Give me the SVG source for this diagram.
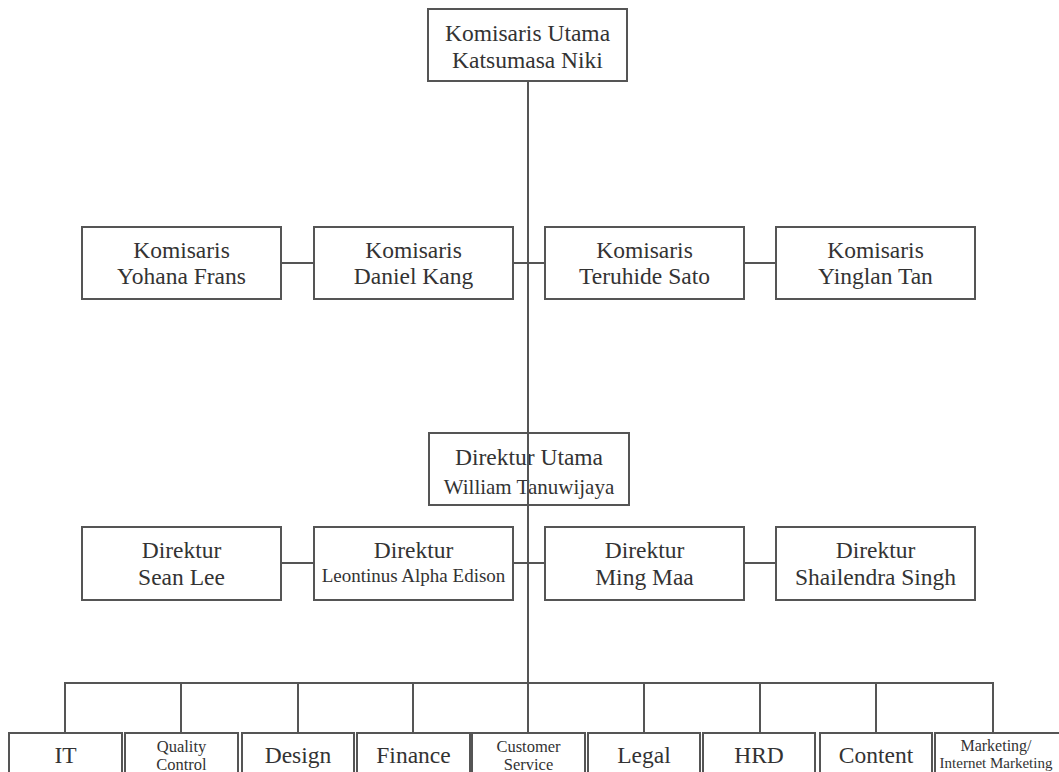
<svg xmlns="http://www.w3.org/2000/svg" width="1059" height="772" viewBox="0 0 1059 772">
<style>
.box{fill:none;stroke:#555;stroke-width:2}
.ln{stroke:#555;stroke-width:2;fill:none}
text{font-family:"Liberation Serif","Times New Roman",serif;fill:#333;text-anchor:middle}
.l{font-size:23.5px}
.m{font-size:19px}
.s{font-size:16.5px}
.xs{font-size:15px}
</style>
<rect width="1059" height="772" fill="#fff"/>
<g id="komisaris-utama"><rect class="box" x="428" y="9" width="199" height="72"/><text class="l" x="527.5" y="41">Komisaris Utama</text><text class="l" x="527.5" y="68">Katsumasa Niki</text></g>
<g id="komisaris-yohana"><rect class="box" x="82" y="227" width="199" height="72"/><text class="l" x="181.5" y="258">Komisaris</text><text class="l" x="181.5" y="284">Yohana Frans</text></g>
<g id="komisaris-daniel"><rect class="box" x="314" y="227" width="199" height="72"/><text class="l" x="413.5" y="258">Komisaris</text><text class="l" x="413.5" y="284">Daniel Kang</text></g>
<g id="komisaris-teruhide"><rect class="box" x="545" y="227" width="199" height="72"/><text class="l" x="644.5" y="258">Komisaris</text><text class="l" x="644.5" y="284">Teruhide Sato</text></g>
<g id="komisaris-yinglan"><rect class="box" x="776" y="227" width="199" height="72"/><text class="l" x="875.5" y="258">Komisaris</text><text class="l" x="875.5" y="284">Yinglan Tan</text></g>
<g id="direktur-utama"><rect class="box" x="429" y="433" width="200" height="72"/><text class="l" x="529" y="465">Direktur Utama</text><text style="font-size:21px" x="529" y="494">William Tanuwijaya</text></g>
<g id="direktur-sean"><rect class="box" x="82" y="527" width="199" height="73"/><text class="l" x="181.5" y="558">Direktur</text><text class="l" x="181.5" y="585">Sean Lee</text></g>
<g id="direktur-leontinus"><rect class="box" x="314" y="527" width="199" height="73"/><text class="l" x="413.5" y="558">Direktur</text><text class="m" x="413.5" y="582">Leontinus Alpha Edison</text></g>
<g id="direktur-ming"><rect class="box" x="545" y="527" width="199" height="73"/><text class="l" x="644.5" y="558">Direktur</text><text class="l" x="644.5" y="585">Ming Maa</text></g>
<g id="direktur-shailendra"><rect class="box" x="776" y="527" width="199" height="73"/><text class="l" x="875.5" y="558">Direktur</text><text class="l" x="875.5" y="585">Shailendra Singh</text></g>
<g id="dept-it"><rect class="box" x="9" y="733" width="113" height="60"/><text class="l" x="65.5" y="763">IT</text></g>
<g id="dept-qc"><rect class="box" x="125" y="733" width="113" height="60"/><text class="s" x="181.5" y="752">Quality</text><text class="s" x="181.5" y="770">Control</text></g>
<g id="dept-design"><rect class="box" x="242" y="733" width="112" height="60"/><text class="l" x="298" y="763">Design</text></g>
<g id="dept-finance"><rect class="box" x="357" y="733" width="113" height="60"/><text class="l" x="413.5" y="763">Finance</text></g>
<g id="dept-cs"><rect class="box" x="472" y="733" width="113" height="60"/><text class="s" x="528.5" y="752">Customer</text><text class="s" x="528.5" y="770">Service</text></g>
<g id="dept-legal"><rect class="box" x="588" y="733" width="112" height="60"/><text class="l" x="644" y="763">Legal</text></g>
<g id="dept-hrd"><rect class="box" x="703" y="733" width="112" height="60"/><text class="l" x="759" y="763">HRD</text></g>
<g id="dept-content"><rect class="box" x="820" y="733" width="112" height="60"/><text class="l" x="876" y="763">Content</text></g>
<g id="dept-marketing"><rect class="box" x="935" y="733" width="130" height="60"/><text style="font-size:16px" x="996" y="751">Marketing/</text><text class="xs" x="996" y="768">Internet Marketing</text></g>
<g id="connectors">
<path class="ln" d="M528 81V683"/>
<path class="ln" d="M281 263H314M513 263H545M744 263H776"/>
<path class="ln" d="M281 563H314M513 563H545M744 563H776"/>
<path class="ln" d="M65 733V683H993V733M181 683V733M298 683V733M413 683V733M528 683V733M644 683V733M760 683V733M876 683V733"/>
</g>
</svg>
